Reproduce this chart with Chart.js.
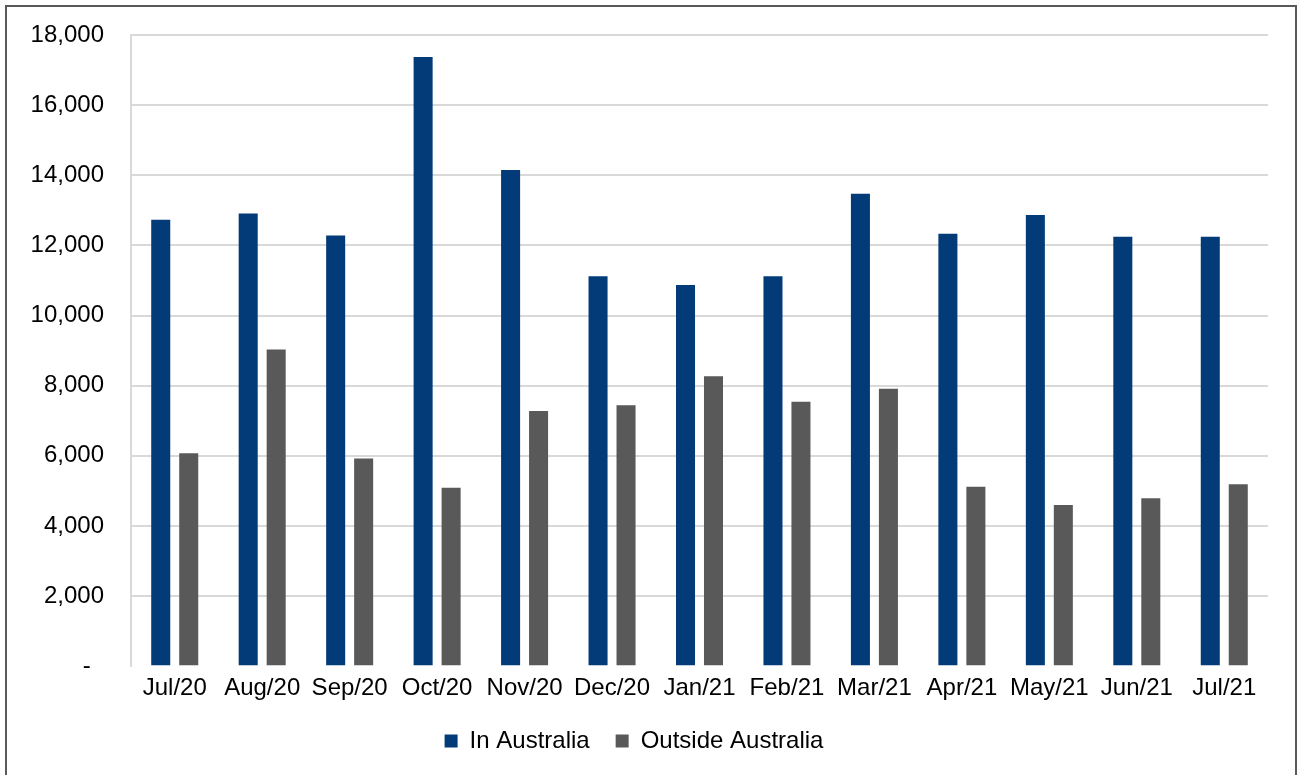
<!DOCTYPE html>
<html>
<head>
<meta charset="utf-8">
<script src="https://cdn.jsdelivr.net/npm/chart.js@4/dist/chart.umd.min.js"></script>
<style>
  html, body { margin: 0; padding: 0; background: #fff; overflow: hidden; }
  #wrap { position: relative; width: 1300px; height: 775px; }
  #frame {
    position: absolute; left: 5px; top: 5px; width: 1292px; height: 800px;
    box-sizing: border-box; border: 2px solid #595959; pointer-events: none;
  }
  canvas { position: absolute; left: 0; top: 0; }
</style>
</head>
<body>
<div id="wrap">
  <canvas id="chart" width="1300" height="775"></canvas>
  <div id="frame"></div>
</div>
<script>
const months = ["Jul/20", "Aug/20", "Sep/20", "Oct/20", "Nov/20", "Dec/20",
  "Jan/21", "Feb/21", "Mar/21", "Apr/21", "May/21", "Jun/21", "Jul/21"];
const inAustralia = [12730, 12910, 12280, 17370, 14150, 11120,
  10870, 11120, 13470, 12330, 12870, 12250, 12250];
const outsideAustralia = [6070, 9030, 5920, 5090, 7280, 7440,
  8270, 7540, 7910, 5120, 4600, 4790, 5190];
const yTicks = [0, 2000, 4000, 6000, 8000, 10000, 12000, 14000, 16000, 18000];

const BLUE = "#033b78";
const GREY = "#595959";
const FONT = "'Liberation Sans', Arial, sans-serif";

const ctx = document.getElementById("chart").getContext("2d");

new Chart(ctx, {
  type: "bar",
  data: {
    labels: months,
    datasets: [
      { label: "In Australia", data: inAustralia, backgroundColor: BLUE },
      { label: "Outside Australia", data: outsideAustralia, backgroundColor: GREY },
    ],
  },
  options: {
    responsive: false,
    animation: false,
    devicePixelRatio: 1,
    layout: { padding: { left: 0, right: 32, top: 35, bottom: 12 } },
    datasets: {
      bar: { categoryPercentage: 0.64, barPercentage: 0.68 },
    },
    scales: {
      x: {
        grid: { display: false },
        border: { display: false },
        ticks: {
          color: "#000",
          font: { family: FONT, size: 24 },
          padding: 0,
          maxRotation: 0,
          autoSkip: false,
        },
      },
      y: {
        min: 0,
        max: 18000,
        afterBuildTicks: (scale) => {
          scale.ticks = yTicks.map((v) => ({ value: v }));
        },
        afterFit: (scale) => { scale.width = 131; },
        grid: {
          drawTicks: true,
          tickLength: 27,
          tickColor: "rgba(0,0,0,0)",
          lineWidth: 2,
          color: (c) => (c.tick && c.tick.value === 0 ? "rgba(0,0,0,0)" : "#d9d9d9"),
        },
        border: { display: true, color: "#d9d9d9", width: 2 },
        ticks: {
          color: "#000",
          font: { family: FONT, size: 24 },
          padding: 0,
          callback: (v) => (v === 0 ? "-  " : v.toLocaleString("en-US")),
        },
      },
    },
    plugins: {
      legend: {
        position: "bottom",
        labels: {
          color: "#000",
          font: { family: FONT, size: 24 },
          boxWidth: 13,
          boxHeight: 13,
          padding: 26,
        },
      },
      tooltip: { enabled: false },
    },
  },
});
</script>
</body>
</html>
